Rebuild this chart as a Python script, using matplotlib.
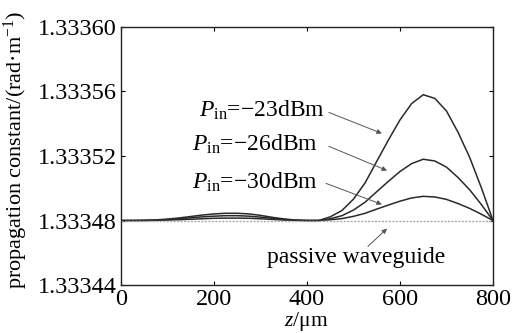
import numpy as np
import matplotlib
matplotlib.use('Agg')
import matplotlib.pyplot as plt
from matplotlib.ticker import FormatStrFormatter

plt.rcParams['font.family'] = ['Liberation Serif', 'DejaVu Serif']
plt.rcParams['mathtext.fontset'] = 'custom'
plt.rcParams['mathtext.rm'] = 'Liberation Serif'
plt.rcParams['mathtext.it'] = 'Liberation Serif:italic'

# position along the waveguide (um)
z = [0, 25, 50, 75, 100, 125, 150, 175, 200, 225, 250, 275, 300, 325, 350, 375, 400,
     425, 450, 475, 500, 525, 550, 575, 600, 625, 650, 675, 700, 725, 750, 775, 800]

# passive waveguide propagation constant
baseline = 1.33348

# change of propagation constant (x1e-5) for each input power
d_23 = [0, 0, 0.01, 0.04, 0.09, 0.16, 0.25, 0.34, 0.41, 0.45, 0.45, 0.41, 0.32, 0.20, 0.10, 0.03, 0,
        0, 0.23, 0.62, 1.33, 2.34, 3.67, 4.99, 6.24, 7.25, 7.8, 7.57, 6.79, 5.46, 3.9, 2.03, 0]
d_26 = [0, 0, 0.01, 0.02, 0.06, 0.11, 0.17, 0.23, 0.27, 0.30, 0.30, 0.27, 0.21, 0.14, 0.07, 0.02, 0,
        0, 0.11, 0.30, 0.65, 1.14, 1.79, 2.43, 3.04, 3.53, 3.8, 3.69, 3.31, 2.66, 1.9, 0.99, 0]
d_30 = [0, 0, 0, 0.01, 0.03, 0.05, 0.08, 0.11, 0.14, 0.15, 0.15, 0.14, 0.11, 0.07, 0.03, 0.01, 0,
        0, 0.05, 0.12, 0.26, 0.45, 0.71, 0.96, 1.2, 1.4, 1.5, 1.46, 1.31, 1.05, 0.75, 0.39, 0]

x_ticks = [0, 200, 400, 600, 800]
y_ticks = [1.33344, 1.33348, 1.33352, 1.33356, 1.33360]

fig = plt.figure(figsize=(5.13, 3.33), dpi=100)
ax = fig.add_axes([0.236, 0.144, 0.725, 0.775])

z_arr = np.array(z)
ax.plot(z_arr, baseline + np.array(d_23) * 1e-5, color='#2a2a2a', lw=1.1)
ax.plot(z_arr, baseline + np.array(d_26) * 1e-5, color='#2a2a2a', lw=1.1)
ax.plot(z_arr, baseline + np.array(d_30) * 1e-5, color='#2a2a2a', lw=1.1)
ax.plot(z_arr, np.full(len(z), baseline), color='#aaaaaa', lw=1.0, linestyle=(0, (1.5, 1)))

ax.set_xlim(0, 800)
ax.set_ylim(1.33344, 1.33360)
ax.set_xticks(x_ticks)
ax.set_yticks(y_ticks)
ax.yaxis.set_major_formatter(FormatStrFormatter('%.5f'))
ax.tick_params(direction='in', top=True, right=True, length=3, width=0.8,
               labelsize=17.5, pad=3)
for s in ax.spines.values():
    s.set_linewidth(1.0)
    s.set_color('#222222')

ax.set_xlabel('$z$/μm', fontsize=15.5)
ax.xaxis.set_label_coords(0.497, -0.098)
ax.set_ylabel('propagation constant/(rad·m$^{-1}$)', fontsize=16)
ax.yaxis.set_label_coords(-0.245, 0.523)

# labels and arrows
txt_kw = dict(fontsize=17, ha='right', va='baseline')
ax.text(439, 1.3335444, '$P_{\\rm in}$=−23dBm', **txt_kw)
ax.text(424, 1.3335233, '$P_{\\rm in}$=−26dBm', **txt_kw)
ax.text(424, 1.3335000, '$P_{\\rm in}$=−30dBm', **txt_kw)
ax.text(506, 1.3334535, 'passive waveguide', fontsize=17, ha='center', va='baseline')

arrow = dict(arrowstyle='-|>', color='#555555', lw=0.7, mutation_scale=7, shrinkA=0, shrinkB=0)
ax.annotate('', xy=(561, 1.333534), xytext=(447, 1.333547), arrowprops=arrow)
ax.annotate('', xy=(572, 1.333511), xytext=(447, 1.333526), arrowprops=arrow)
ax.annotate('', xy=(561, 1.333490), xytext=(441, 1.333503), arrowprops=arrow)
ax.annotate('', xy=(572, 1.333475), xytext=(531, 1.333464), arrowprops=arrow)

fig.savefig('out.png', dpi=100)
